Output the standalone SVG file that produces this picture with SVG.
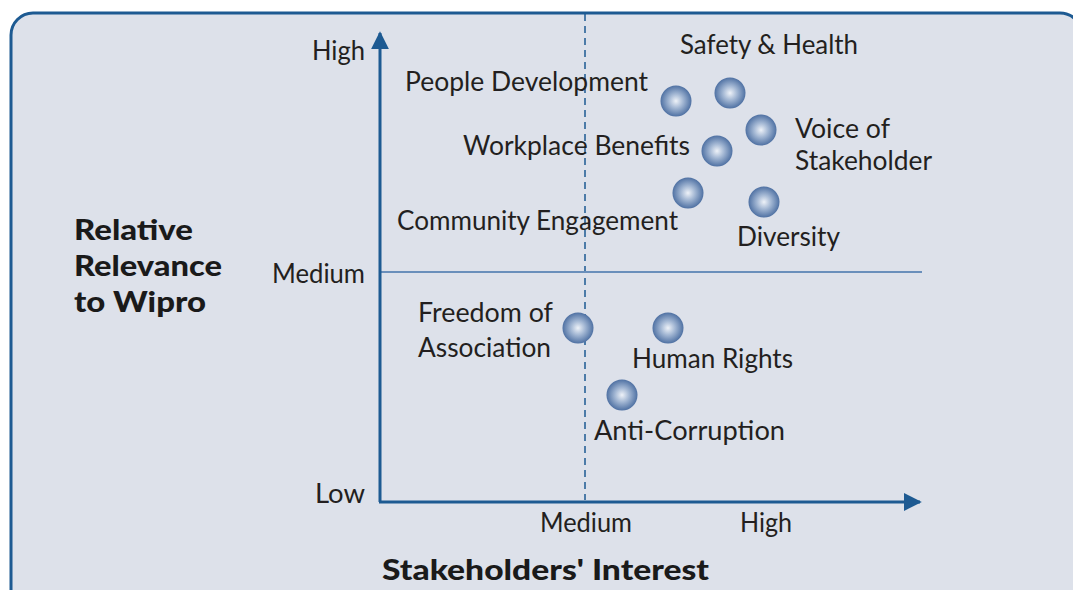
<svg xmlns="http://www.w3.org/2000/svg" width="1073" height="590" viewBox="0 0 1073 590">
<defs>
<radialGradient id="ball" cx="50%" cy="50%" r="50%">
<stop offset="0" stop-color="#eef2f8"/>
<stop offset="0.45" stop-color="#a4b8d4"/>
<stop offset="1" stop-color="#4f71a3"/>
</radialGradient>
<marker id="arr" viewBox="0 0 10 10" refX="9" refY="5" markerWidth="6" markerHeight="6" markerUnits="strokeWidth" orient="auto">
<path d="M0,0 L10,5 L0,10 z" fill="#1d5a92"/>
</marker>
</defs>
<style>
.t{font-family:"Lato","Open Sans","Liberation Sans",sans-serif;font-size:26px;fill:#231f20}
.b{font-family:"Lato","Open Sans","Liberation Sans",sans-serif;font-size:28px;font-weight:900;fill:#1a1a1a}
.dot{fill:url(#ball)}
.ax{stroke:#1d5a92;stroke-width:3;fill:none}
</style>
<rect x="0" y="0" width="1073" height="590" fill="#ffffff"/>
<rect id="frame" x="11" y="13" width="1071" height="600" rx="22" fill="#dde1ea" stroke="#1d5a92" stroke-width="3"/>
<g id="connectors">
<line x1="585" y1="14" x2="585" y2="500" stroke="#1d5a92" stroke-width="1.5" stroke-dasharray="7,5"/>
<line x1="380" y1="272" x2="922" y2="272" stroke="#6a8fbb" stroke-width="2"/>
<line class="ax" x1="380" y1="502" x2="380" y2="33" marker-end="url(#arr)"/>
<line class="ax" x1="379" y1="502" x2="920" y2="502" marker-end="url(#arr)"/>
</g>
<g id="axis-labels">
<text class="t" x="312" y="60" textLength="53" lengthAdjust="spacingAndGlyphs">High</text>
<text class="t" x="272" y="283" textLength="93" lengthAdjust="spacingAndGlyphs">Medium</text>
<text class="t" x="315" y="503" textLength="50" lengthAdjust="spacingAndGlyphs">Low</text>
<text class="t" x="540" y="532" textLength="92" lengthAdjust="spacingAndGlyphs">Medium</text>
<text class="t" x="740" y="532" textLength="52" lengthAdjust="spacingAndGlyphs">High</text>
<text class="b" x="382" y="580" textLength="327" lengthAdjust="spacingAndGlyphs">Stakeholders' Interest</text>
<text class="b" x="74" y="240" textLength="119" lengthAdjust="spacingAndGlyphs">Relative</text>
<text class="b" x="74" y="276" textLength="148" lengthAdjust="spacingAndGlyphs">Relevance</text>
<text class="b" x="74" y="312" textLength="132" lengthAdjust="spacingAndGlyphs">to Wipro</text>
</g>
<g id="safety-health"><circle class="dot" cx="730" cy="93" r="15.5"/><text class="t" x="680" y="54" textLength="178" lengthAdjust="spacingAndGlyphs">Safety &amp; Health</text></g>
<g id="people-development"><circle class="dot" cx="676" cy="101" r="15.5"/><text class="t" x="405" y="91" textLength="243" lengthAdjust="spacingAndGlyphs">People Development</text></g>
<g id="voice-of-stakeholder"><circle class="dot" cx="761" cy="130" r="15.5"/><text class="t" x="795" y="138" textLength="95" lengthAdjust="spacingAndGlyphs">Voice of</text><text class="t" x="795" y="170" textLength="137" lengthAdjust="spacingAndGlyphs">Stakeholder</text></g>
<g id="workplace-benefits"><circle class="dot" cx="717" cy="151" r="15.5"/><text class="t" x="463" y="155" textLength="227" lengthAdjust="spacingAndGlyphs">Workplace Benefits</text></g>
<g id="community-engagement"><circle class="dot" cx="688" cy="193" r="15.5"/><text class="t" x="397" y="230" textLength="281" lengthAdjust="spacingAndGlyphs">Community Engagement</text></g>
<g id="diversity"><circle class="dot" cx="764" cy="202" r="15.5"/><text class="t" x="737" y="246" textLength="103" lengthAdjust="spacingAndGlyphs">Diversity</text></g>
<g id="freedom-of-association"><circle class="dot" cx="578" cy="328" r="15.5"/><text class="t" x="418" y="322" textLength="135" lengthAdjust="spacingAndGlyphs">Freedom of</text><text class="t" x="418" y="357" textLength="133" lengthAdjust="spacingAndGlyphs">Association</text></g>
<g id="human-rights"><circle class="dot" cx="668" cy="328" r="15.5"/><text class="t" x="632" y="368" textLength="161" lengthAdjust="spacingAndGlyphs">Human Rights</text></g>
<g id="anti-corruption"><circle class="dot" cx="622" cy="395" r="15.5"/><text class="t" x="594" y="440" textLength="191" lengthAdjust="spacingAndGlyphs">Anti-Corruption</text></g>
</svg>
